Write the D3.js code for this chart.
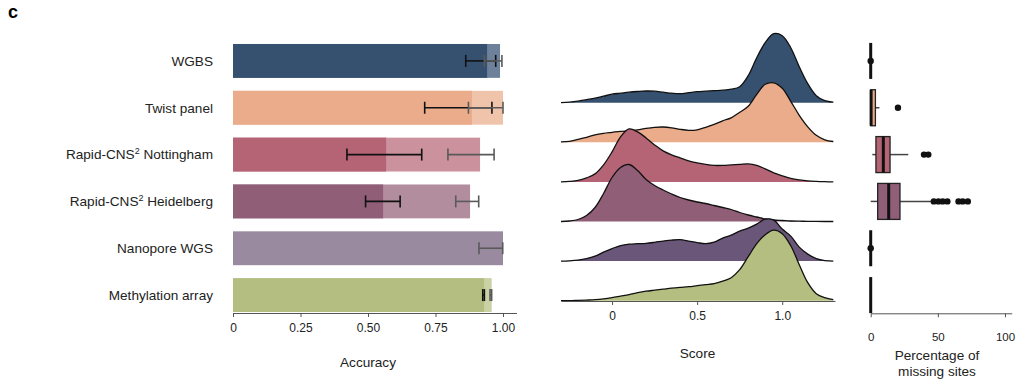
<!DOCTYPE html>
<html>
<head>
<meta charset="utf-8">
<script src="https://cdn.jsdelivr.net/npm/d3@7"></script>
<style>
  body { margin: 0; background: #fff; }
  svg { display: block; font-family: "Liberation Sans", Arial, sans-serif; }
  .axis path, .axis line { stroke: #555; }
  .axis text { fill: #222; }
</style>
</head>
<body>
<svg id="chart" width="1035" height="388"></svg>
<script>
// categories
const methods = ['WGBS', 'Twist panel', 'Rapid-CNS2 Nottingham', 'Rapid-CNS2 Heidelberg', 'Nanopore WGS', 'Methylation array'];
const darkColors = ['#36506f', '#eaac8b', '#b46474', '#905f77', '#6a5678', '#b3be80'];
const lightColors = ['#6e819b', '#efc4ab', '#cb919c', '#b28d9d', '#998aa0', '#c9d1a5'];

// accuracy bars (dark = first value, light = second value)
const accDark = [0.941, 0.885, 0.567, 0.556, null, 0.930];
const accLight = [0.989, 1.0, 0.915, 0.878, 1.0, 0.958];
const errDark = [[0.862, 0.973], [0.71, 0.959], [0.422, 0.699], [0.491, 0.619], null, [0.925, 0.931]];
const errLight = [[0.931, 0.996], [0.872, 1.0], [0.796, 0.967], [0.825, 0.910], [0.911, 0.999], [0.952, 0.958]];
const accTicks = [0, 0.25, 0.5, 0.75, 1.0];

// score densities (relative), read at these scores
const scoreGrid = [-0.30, -0.25, -0.20, -0.15, -0.10, -0.05, 0.00, 0.05, 0.10, 0.15, 0.20, 0.25, 0.30, 0.35, 0.40, 0.45,
  0.50, 0.55, 0.60, 0.65, 0.70, 0.75, 0.80, 0.85, 0.90, 0.95, 1.00, 1.05, 1.10, 1.15, 1.20, 1.25, 1.30];
const densWGBS = [0, 0.5, 1.5, 3, 4.5, 6.5, 8.5, 9.5, 10.5, 11.2, 11.7, 11.5, 10.5, 9.5, 9, 10,
  11, 11.5, 12, 12.5, 13.5, 16, 27, 45, 60, 69, 67, 55, 36, 19, 7, 2, 0.5];
const densTwist = [0.5, 1, 3, 5, 7.5, 9, 10, 11, 11.5, 12.5, 14, 15, 15.3, 14.5, 13, 12,
  12.5, 15, 18, 21.5, 24.5, 30, 36, 48, 58, 59.5, 54, 41, 27, 15.5, 7, 2.5, 0.8];
const densNott = [0, 0.5, 1.5, 4, 8, 17, 30, 45, 53, 50, 44, 37, 31, 27, 24, 21,
  19, 17.5, 16.5, 16.5, 17, 17.5, 18, 16.5, 13, 9, 6, 3.5, 2, 1, 0.5, 0.2, 0];
const densHeid = [0, 0.5, 2, 6, 14, 28, 44, 54, 57, 51, 42, 36, 31.5, 27.5, 24, 21.5,
  19.5, 18, 16, 14, 12, 9, 6.5, 4.5, 2.5, 1.5, 1, 0.5, 0.3, 0.2, 0.1, 0, 0];
const densNano = [0, 0.3, 1, 2.5, 5, 9, 12.5, 15.5, 17, 17.4, 17.8, 18.8, 20, 21, 21.4, 20,
  18.5, 17.4, 19, 23, 26, 30, 33, 37, 42, 41, 32, 25, 14, 7, 2.5, 0.5, 0];
const densArray = [0, 0, 0.3, 0.6, 1, 1.8, 3, 4.5, 6, 8, 9.5, 10.5, 11.5, 12.5, 13.3, 14,
  15, 16, 17, 19.5, 23, 31, 44, 57, 66, 70.5, 67, 55, 36, 18, 7, 3, 1];
const densities = [densWGBS, densTwist, densNott, densHeid, densNano, densArray];
const scoreTicks = [0, 0.5, 1.0];

// percentage of missing sites (box plots)
const boxQ1 = [0, 0, 3.9, 5.2, 0, 0];
const boxMed = [0, 0.3, 9.4, 13.4, 0, 0];
const boxQ3 = [0, 3.5, 14.4, 21.8, 0, 0];
const whiskLo = [0, 0, 1.2, 0, 0, 0];
const whiskHi = [0, 6.5, 28, 45.4, 0, 0];
const outliers = [[0], [20.3], [39.7, 42.9], [47, 50.4, 53.6, 57.1, 65.4, 68.5, 72.3], [0], []];
const missTicks = [0, 50, 100];

const svg = d3.select('#chart');

svg.append('text').attr('x', 8).attr('y', 18)
  .style('font-size', '18px').style('font-weight', 900).text('c');

// ---- left: accuracy bars ----
const xAcc = d3.scaleLinear().domain([0, 1.05]).range([233, 516.5]);
const yRow = d3.scaleBand().domain(methods).range([37.5, 318.5]).paddingInner(0.277).paddingOuter(0.1385);
const bh = yRow.bandwidth();

const rows = svg.append('g').selectAll('g').data(methods).join('g')
  .attr('transform', d => `translate(0,${yRow(d)})`);

rows.append('rect')
  .attr('x', xAcc(0)).attr('y', 0).attr('height', bh)
  .attr('width', (d, i) => xAcc(accLight[i]) - xAcc(0))
  .attr('fill', (d, i) => lightColors[i]);
rows.filter((d, i) => accDark[i] != null).append('rect')
  .attr('x', xAcc(0)).attr('y', 0).attr('height', bh)
  .attr('width', d => xAcc(accDark[methods.indexOf(d)]) - xAcc(0))
  .attr('fill', d => darkColors[methods.indexOf(d)]);

function errBar(g, lo, hi, color) {
  const cy = bh / 2, cap = 6;
  g.append('line').attr('x1', xAcc(lo)).attr('x2', xAcc(hi)).attr('y1', cy).attr('y2', cy)
    .attr('stroke', color).attr('stroke-width', 1.6);
  [lo, hi].forEach(v => {
    g.append('line').attr('x1', xAcc(v)).attr('x2', xAcc(v)).attr('y1', cy - cap).attr('y2', cy + cap)
      .attr('stroke', color).attr('stroke-width', 1.6);
  });
}
rows.each(function (d, i) {
  const g = d3.select(this);
  if (errDark[i]) errBar(g, errDark[i][0], errDark[i][1], '#111');
  if (errLight[i]) errBar(g, errLight[i][0], errLight[i][1], '#5a5a5a');
});

// row labels
const labels = svg.append('g').selectAll('text').data(methods).join('text')
  .attr('x', 213).attr('y', d => yRow(d) + bh / 2)
  .attr('dy', '0.35em').attr('text-anchor', 'end')
  .style('font-size', '13.6px').attr('fill', '#222');
labels.each(function (d) {
  const t = d3.select(this);
  if (d.startsWith('Rapid-CNS2')) {
    t.append('tspan').text('Rapid-CNS');
    t.append('tspan').attr('baseline-shift', 'super').style('font-size', '9px').text('2');
    t.append('tspan').text(d.replace('Rapid-CNS2', ''));
  } else {
    t.text(d);
  }
});

svg.append('g').attr('class', 'axis').attr('transform', 'translate(0,313)')
  .call(d3.axisBottom(xAcc).tickValues(accTicks).tickSize(4).tickSizeOuter(0).tickPadding(6)
    .tickFormat(d => d === 0 ? '0' : d.toFixed(2)))
  .call(g => g.selectAll('text').style('font-size', '12px'));
svg.append('text').attr('x', 368).attr('y', 366.5).attr('text-anchor', 'middle')
  .style('font-size', '13.6px').attr('fill', '#222').text('Accuracy');

// ---- middle: score ridgelines ----
const xScore = d3.scaleLinear().domain([-0.3, 1.31]).range([561, 835]);
const yBase = d3.scalePoint().domain(methods).range([102.7, 300.7]);
const hDens = d3.scaleLinear().domain([0, 70]).range([0, 70]);

const ridges = svg.append('g');
methods.forEach((m, i) => {
  const pts = scoreGrid.map((s, k) => [s, densities[i][k]]);
  const b = yBase(m);
  const area = d3.area().x(d => xScore(d[0])).y0(b).y1(d => b - hDens(d[1])).curve(d3.curveCatmullRom);
  const line = d3.line().x(d => xScore(d[0])).y(d => b - hDens(d[1])).curve(d3.curveCatmullRom);
  ridges.append('path').attr('d', area(pts)).attr('fill', darkColors[i]);
  ridges.append('path').attr('d', line(pts)).attr('fill', 'none').attr('stroke', '#111').attr('stroke-width', 1.3);
});

svg.append('g').attr('class', 'axis').attr('transform', 'translate(0,301)')
  .call(d3.axisBottom(xScore).tickValues(scoreTicks).tickSize(4).tickSizeOuter(0).tickPadding(6)
    .tickFormat(d => d === 0 ? '0' : d.toFixed(1)))
  .call(g => g.selectAll('text').style('font-size', '12px'));
svg.append('text').attr('x', 697.5).attr('y', 358).attr('text-anchor', 'middle')
  .style('font-size', '13.6px').attr('fill', '#222').text('Score');

// ---- right: missing sites box plots ----
const xMiss = d3.scaleLinear().domain([0, 105]).range([870.7, 1011.7]);
const boxH = 36;
const boxes = svg.append('g').selectAll('g').data(methods).join('g')
  .attr('transform', d => `translate(0,${yRow(d) + bh / 2})`);

boxes.each(function (d, i) {
  const g = d3.select(this);
  g.append('line').attr('x1', xMiss(whiskLo[i])).attr('x2', xMiss(boxQ1[i])).attr('y1', 0).attr('y2', 0)
    .attr('stroke', '#444').attr('stroke-width', 1.5);
  g.append('line').attr('x1', xMiss(boxQ3[i])).attr('x2', xMiss(whiskHi[i])).attr('y1', 0).attr('y2', 0)
    .attr('stroke', '#444').attr('stroke-width', 1.5);
  g.append('rect').attr('x', xMiss(boxQ1[i])).attr('y', -boxH / 2)
    .attr('width', xMiss(boxQ3[i]) - xMiss(boxQ1[i])).attr('height', boxH)
    .attr('fill', darkColors[i]).attr('stroke', '#222').attr('stroke-width', 1.3);
  g.append('line').attr('x1', xMiss(boxMed[i])).attr('x2', xMiss(boxMed[i]))
    .attr('y1', -boxH / 2).attr('y2', boxH / 2).attr('stroke', '#111').attr('stroke-width', 3);
  g.selectAll('circle').data(outliers[i]).join('circle')
    .attr('cx', v => xMiss(v)).attr('cy', 0).attr('r', 3.2).attr('fill', '#111');
});

svg.append('g').attr('class', 'axis').attr('transform', 'translate(0,313.3)')
  .call(d3.axisBottom(xMiss).tickValues(missTicks).tickSize(4).tickSizeOuter(0).tickPadding(16))
  .call(g => g.selectAll('text').style('font-size', '11.5px'));
svg.append('text').attr('x', 937).attr('y', 360).attr('text-anchor', 'middle')
  .style('font-size', '13.6px').attr('fill', '#222').text('Percentage of');
svg.append('text').attr('x', 937).attr('y', 375.5).attr('text-anchor', 'middle')
  .style('font-size', '13.6px').attr('fill', '#222').text('missing sites');
</script>
</body>
</html>
